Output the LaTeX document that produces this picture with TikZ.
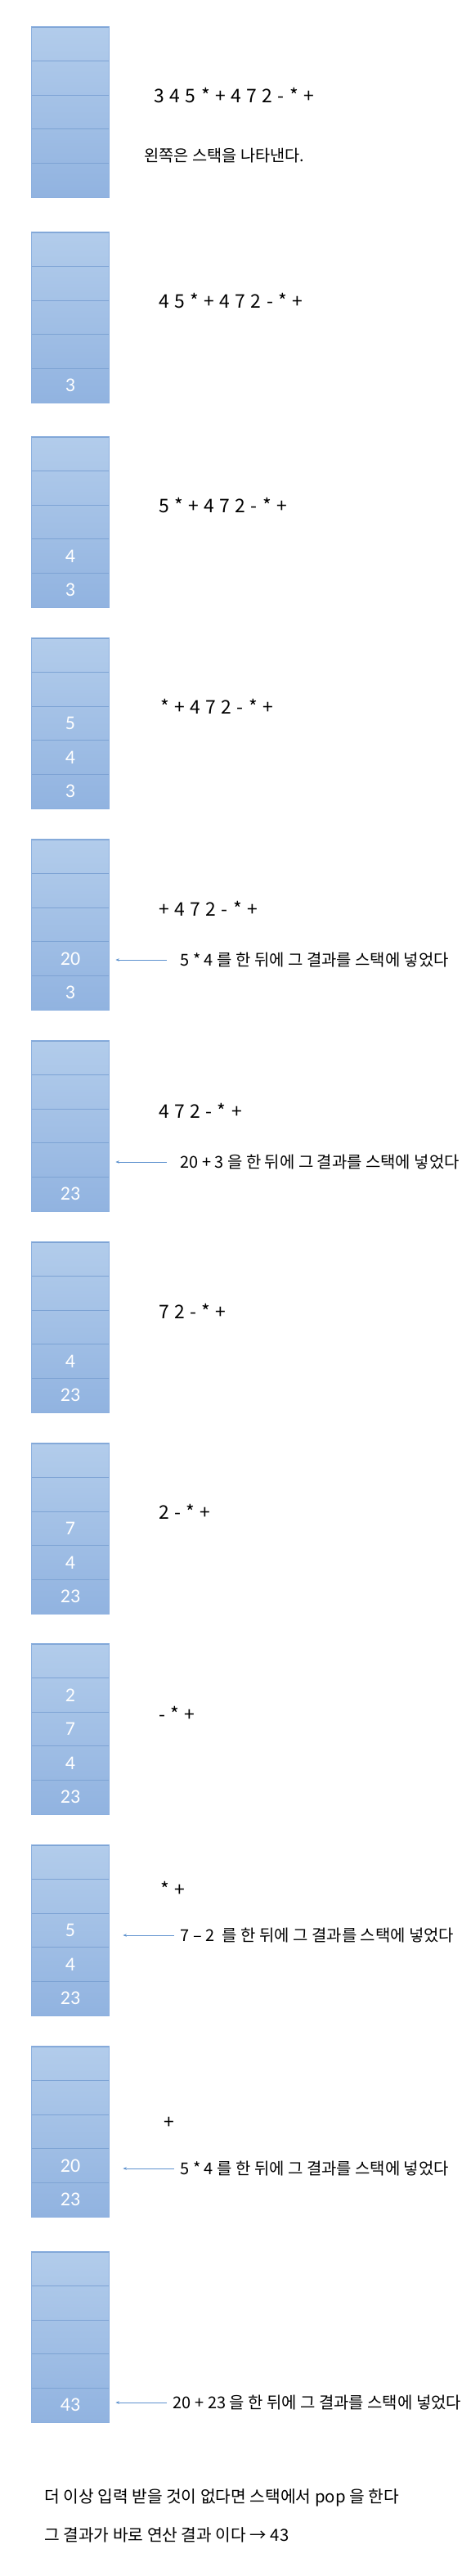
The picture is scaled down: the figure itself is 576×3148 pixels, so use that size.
\documentclass[tikz,border=0pt]{standalone}
\usepackage{fontspec}
\setmainfont{Noto Sans CJK KR}
\newfontfamily\numfont{Carlito}
\newfontfamily\exprfont{Noto Sans CJK KR}[WordSpace=1.25]
\usetikzlibrary{arrows.meta}
\definecolor{stTop}{HTML}{B2CCEB}
\definecolor{stBot}{HTML}{91B3E0}
\definecolor{cellLine}{HTML}{7DA3D4}
\definecolor{stEdge}{HTML}{8CB0DF}
\definecolor{arrowBlue}{HTML}{5E92CE}
\tikzset{
  cell/.style={draw=cellLine, line width=0.8bp, minimum width=94.8bp, minimum height=41.6bp,
    inner sep=0pt, text=white, font=\numfont\fontsize{24}{24}\selectfont},
  expr/.style={anchor=west, inner sep=0pt, font=\exprfont\fontsize{23}{26}\selectfont},
  lab/.style={anchor=west, inner sep=0pt, font=\fontsize{20}{24}\selectfont},
  ptr/.style={draw=arrowBlue, line width=0.7bp, -{Stealth[length=4.5bp,width=3.5bp]}},
}
\newcommand\drawstack[7]{%
  \shade[top color=stTop, bottom color=stBot] (38.6,#2) rectangle (133.4,#2+208);
  \node[cell] (#1a) at (86,#2+20.8) {#3};
  \node[cell] (#1b) at (86,#2+62.4) {#4};
  \node[cell] (#1c) at (86,#2+104) {#5};
  \node[cell] (#1d) at (86,#2+145.6) {#6};
  \node[cell] (#1e) at (86,#2+187.2) {#7};
  \draw[stEdge, line width=0.8bp] (#1a.north west) rectangle (#1e.south east);
}
\begin{document}
\begin{tikzpicture}[x=1bp, y=-1bp]
\useasboundingbox (0,0) rectangle (576,3148);
\fill[white] (0,0) rectangle (576,3148);

% stacks
\drawstack{sA}{33}{}{}{}{}{}
\drawstack{sB}{284}{}{}{}{}{3}
\drawstack{sC}{534}{}{}{}{4}{3}
\drawstack{sD}{780}{}{}{5}{4}{3}
\drawstack{sE}{1026}{}{}{}{20}{3}
\drawstack{sF}{1272}{}{}{}{}{23}
\drawstack{sG}{1518}{}{}{}{4}{23}
\drawstack{sH}{1764}{}{}{7}{4}{23}
\drawstack{sI}{2009}{}{2}{7}{4}{23}
\drawstack{sJ}{2255}{}{}{5}{4}{23}
\drawstack{sK}{2501}{}{}{}{20}{23}
\drawstack{sL}{2752}{}{}{}{}{43}

% expressions
\node[expr] (eA) at (188.5,117) {3 4 5 * + 4 7 2 - * +};
\node[lab, font=\fontsize{19.8}{24}\selectfont] (note) at (176.4,190) {왼쪽은 스택을 나타낸다.};
\node[expr] (eB) at (194,368) {4 5 * + 4 7 2 - * +};
\node[expr] (eC) at (194,618) {5 * + 4 7 2 - * +};
\node[expr] (eD) at (196,863) {* + 4 7 2 - * +};
\node[expr] (eE) at (194,1110) {+ 4 7 2 - * +};
\node[expr] (eF) at (194,1357) {4 7 2 - * +};
\node[expr] (eG) at (194,1602) {7 2 - * +};
\node[expr] (eH) at (194,1847) {2 - * +};
\node[expr] (eI) at (194,2094) {- * +};
\node[expr] (eJ) at (196,2308) {* +};
\node[expr] (eK) at (200.6,2594) {+};

% explanation labels
\node[lab] (lE) at (220.5,1173) {5 * 4 를 한 뒤에 그 결과를 스택에 넣었다};
\node[lab] (lF) at (220.5,1420) {20 + 3 을 한 뒤에 그 결과를 스택에 넣었다};
\node[lab] (lJ) at (220.5,2365) {7 – 2\hspace{5bp} 를 한 뒤에 그 결과를 스택에 넣었다};
\node[lab] (lK) at (220.5,2650) {5 * 4 를 한 뒤에 그 결과를 스택에 넣었다};
\node[lab] (lL) at (211.7,2936) {20 + 23 을 한 뒤에 그 결과를 스택에 넣었다};

\draw[ptr, shorten <=16.5bp, shorten >=7.6bp] (lE.west) -- (lE.west -| sEd.east);
\draw[ptr, shorten <=16.5bp, shorten >=7.6bp] (lF.west) -- (lF.west -| sFd.east);
\draw[ptr, shorten <=7.7bp, shorten >=16.6bp] (lJ.west) -- (lJ.west -| sJc.east);
\draw[ptr, shorten <=7.7bp, shorten >=16.6bp] (lK.west) -- (lK.west -| sKd.east);
\draw[ptr, shorten <=7.7bp, shorten >=7.6bp] (lL.west) -- (lL.west -| sLe.east);

% conclusion
\node[lab, font=\fontsize{20.4}{24}\selectfont] (endA) at (54,3052) {더 이상 입력 받을 것이 없다면 스택에서 pop 을 한다};
\node[lab, font=\fontsize{20.4}{24}\selectfont] (endB) at (54,3098) {그 결과가 바로 연산 결과 이다 → 43};
\end{tikzpicture}
\end{document}
